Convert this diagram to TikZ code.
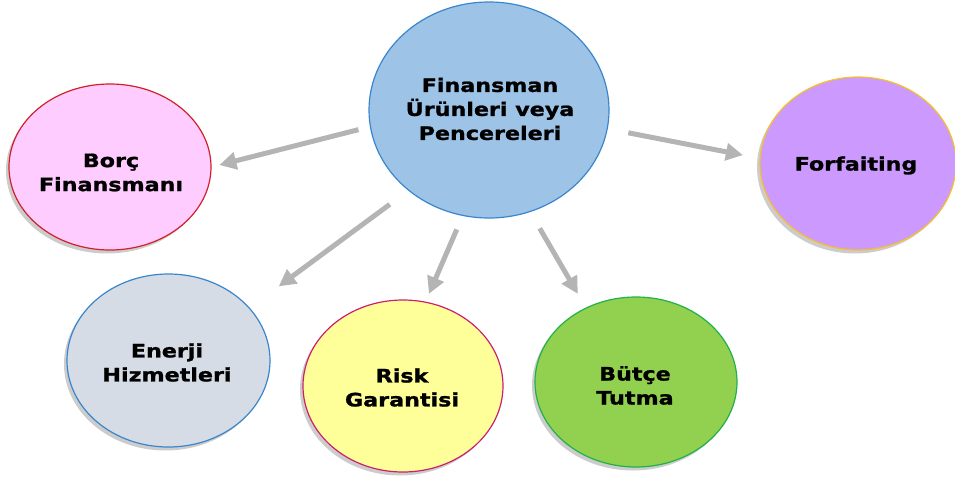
\documentclass[tikz,border=0pt]{standalone}
\usepackage{fontspec}
\newfontfamily\lbl[FakeStretch=1.2,FakeBold=1.2]{DejaVu Sans}
\usetikzlibrary{shapes.geometric,shadows,arrows.meta}

\definecolor{cfill}{HTML}{9DC3E6}\definecolor{cline}{HTML}{3A86CC}
\definecolor{bfill}{HTML}{FFCCFF}\definecolor{bline}{HTML}{D0202A}
\definecolor{ffill}{HTML}{CC99FF}\definecolor{fline}{HTML}{F5C02A}
\definecolor{efill}{HTML}{D6DCE5}\definecolor{eline}{HTML}{3A86CC}
\definecolor{rfill}{HTML}{FFFF99}\definecolor{rline}{HTML}{CC1F6E}
\definecolor{tfill}{HTML}{92D050}\definecolor{tline}{HTML}{22B04A}
\definecolor{arrowgray}{HTML}{B4B4B4}

\tikzset{
  bub/.style={ellipse, inner sep=0pt, line width=1.2pt},
  shd/.style={drop shadow={shadow xshift=-3pt, shadow yshift=-3.5pt, fill=black, opacity=.2}},
  txt/.style={align=center, text=black, font=\lbl\bfseries\fontsize{18.5}{24}\selectfont},
  arr/.style={draw=arrowgray, line width=5pt, -{Triangle[length=17pt,width=17pt]}},
}

\begin{document}
\begin{tikzpicture}[x=1pt,y=-1pt]
\useasboundingbox (0,0) rectangle (955,482);

% bubbles
\node[bub, draw=cline, fill=cfill, minimum width=240pt, minimum height=216pt] (c) at (489,110) {};
\node[bub, shd, draw=bline, fill=bfill, minimum width=202pt, minimum height=166pt] (b) at (110,167) {};
\node[bub, shd, draw=fline, fill=ffill, minimum width=196pt, minimum height=173pt] (f) at (858,163.5) {};
\node[bub, shd, draw=eline, fill=efill, minimum width=203pt, minimum height=173pt] (e) at (168.5,360.5) {};
\node[bub, shd, draw=rline, fill=rfill, minimum width=200pt, minimum height=172pt] (r) at (403,386) {};
\node[bub, shd, draw=tline, fill=tfill, minimum width=202pt, minimum height=170pt] (t) at (636,382) {};

% labels
\node[txt] (ct) at (490,109) {Finansman\\Ürünleri veya\\Pencereleri};
\node[txt] (bt) at (111,172.5) {Borç\\Finansmanı};
\node[txt] (ft) at (856,165.5) {Forfaiting};
\node[txt] (et) at (167,362.5) {Enerji\\Hizmetleri};
\node[txt] (rt) at (402,387.5) {Risk\\Garantisi};
\node[txt] (tt) at (635,385.5) {Bütçe\\Tutma};

% connectors
\draw[arr, shorten <=11.8pt, shorten >=8pt]  (c.188.7) -- (b.0);
\draw[arr, shorten <=23pt,   shorten >=36pt] (c.225.3) -- (e.33.9);
\draw[arr, shorten <=14.7pt, shorten >=8.4pt] (c.256.9) -- (r.75.4);
\draw[arr, shorten <=18.8pt, shorten >=15.9pt] (c.292) -- (t.124.1);
\draw[arr, shorten <=20.9pt, shorten >=17pt] (c.351.4) -- (f.177.3);
\end{tikzpicture}
\end{document}
